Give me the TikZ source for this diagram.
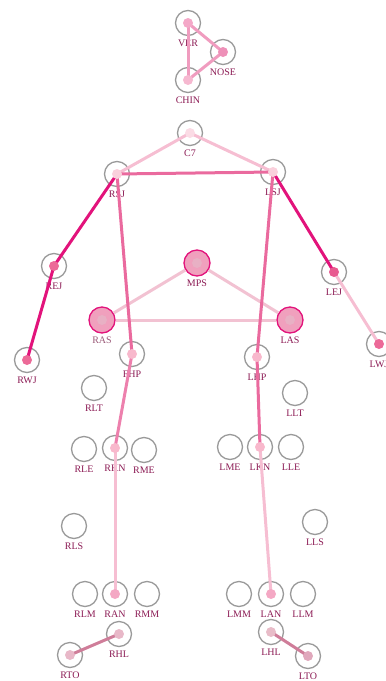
\documentclass[tikz,border=0pt]{standalone}
\usepackage{fontspec}
\setmainfont{Liberation Serif}
\begin{document}
\begin{tikzpicture}[x=1pt,y=-1pt,
  joint/.style={circle,draw=ringgray,line width=1.3pt,minimum size=25pt,inner sep=0pt},
  special/.style={circle,draw=magentaline,fill=specfill,line width=1.3pt,minimum size=26pt,inner sep=0pt},
  lbl/.style={font=\fontsize{10}{10}\selectfont,text=lblcol,inner sep=0pt,anchor=base},
  edge/.style={line width=3pt},
  dotr/.style={radius=5pt}
]
\definecolor{ringgray}{HTML}{9A9A9A}
\definecolor{lblcol}{HTML}{8C1C55}
\definecolor{lblras}{HTML}{9A5A78}
\definecolor{facepink}{HTML}{F09CBF}
\definecolor{lightpink}{HTML}{F6BED2}
\definecolor{midpink}{HTML}{EA6A9E}
\definecolor{magentaline}{HTML}{E2137B}
\definecolor{pelvis}{HTML}{F2C2D2}
\definecolor{footc}{HTML}{CF7D99}
\definecolor{specfill}{HTML}{F0A0BD}
\definecolor{specdot}{HTML}{E8B0C4}
\useasboundingbox (0,0) rectangle (386,681);
\clip (0,0) rectangle (386,681);
% joints with labels
\foreach \n/\x/\y in {VER/188/23,NOSE/223/52,CHIN/188/80,C7/190/133,RSJ/117/174,LSJ/273/172,
  REJ/54/266,LEJ/334/272,RWJ/27/360,LWJ/379/344,FHP/132/354,LHP/257/357,
  RLT/94/388,LLT/295/393,RLE/84/449,RKN/115/448,RME/144/450,LME/230/447,LKN/260/447,LLE/291/447,
  RLS/74/526,LLS/315/522,RLM/85/594,RAN/115/594,RMM/147/594,LMM/239/594,LAN/271/594,LLM/303/594,
  RHL/119/634,RTO/70/655,LHL/271/632,LTO/308/656}{
  \node[joint] (\n) at (\x,\y) {};
  \node[lbl] (\n-l) at (\x,\y+23) {\n};
}
% special nodes
\node[special] (MPS) at (197,263) {};
\node[special] (RAS) at (102,320) {};
\node[special] (LAS) at (290,320) {};
\node[lbl] (MPS-l) at (197,286) {MPS};
\node[lbl,text=lblras] (RAS-l) at (102,343) {RAS};
\node[lbl] (LAS-l) at (290,343) {LAS};
% edges
\draw[edge,facepink] (VER.center) -- (CHIN.center);
\draw[edge,facepink] (VER.center) -- (NOSE.center);
\draw[edge,facepink] (NOSE.center) -- (CHIN.center);
\draw[edge,lightpink] (C7.center) -- (RSJ.center);
\draw[edge,lightpink] (C7.center) -- (LSJ.center);
\draw[edge,midpink] (RSJ.center) -- (LSJ.center);
\draw[edge,magentaline] (RSJ.center) -- (REJ.center);
\draw[edge,magentaline] (REJ.center) -- (RWJ.center);
\draw[edge,magentaline] (LSJ.center) -- (LEJ.center);
\draw[edge,lightpink] (LEJ.center) -- (LWJ.center);
\draw[edge,pelvis] (MPS) -- (RAS);
\draw[edge,pelvis] (MPS) -- (LAS);
\draw[edge,pelvis] (RAS) -- (LAS);
\draw[edge,midpink] (RSJ.center) -- (FHP.center);
\draw[edge,midpink!85!white] (FHP.center) -- (RKN.center);
\draw[edge,lightpink] (RKN.center) -- (RAN.center);
\draw[edge,midpink] (LSJ.center) -- (LHP.center);
\draw[edge,midpink] (LHP.center) -- (LKN.center);
\draw[edge,lightpink] (LKN.center) -- (LAN.center);
\draw[edge,footc] (RHL.center) -- (RTO.center);
\draw[edge,footc] (LHL.center) -- (LTO.center);
% dots
\foreach \n/\c in {VER/F4A8C8,NOSE/EE90B8,CHIN/F6B8D0,C7/FBDBE5,RSJ/FAD0DC,LSJ/FAD0DC,
  REJ/EC6A98,RWJ/EC6A98,LEJ/E85A90,LWJ/EC6A98,FHP/F8B8CC,LHP/F8B8CC,RKN/F8B8CC,LKN/F8B8CC,
  RAN/F4A8C4,LAN/F4A8C4,RHL/E8B8C8,RTO/E8B8C8,LHL/E8BCC8,LTO/E0A8BC,
  MPS/E8B0C4,RAS/E8B0C4,LAS/E8B0C4}{
  \definecolor{dc}{HTML}{\c}
  \fill[dc] (\n.center) circle[dotr];
}
\end{tikzpicture}
\end{document}
